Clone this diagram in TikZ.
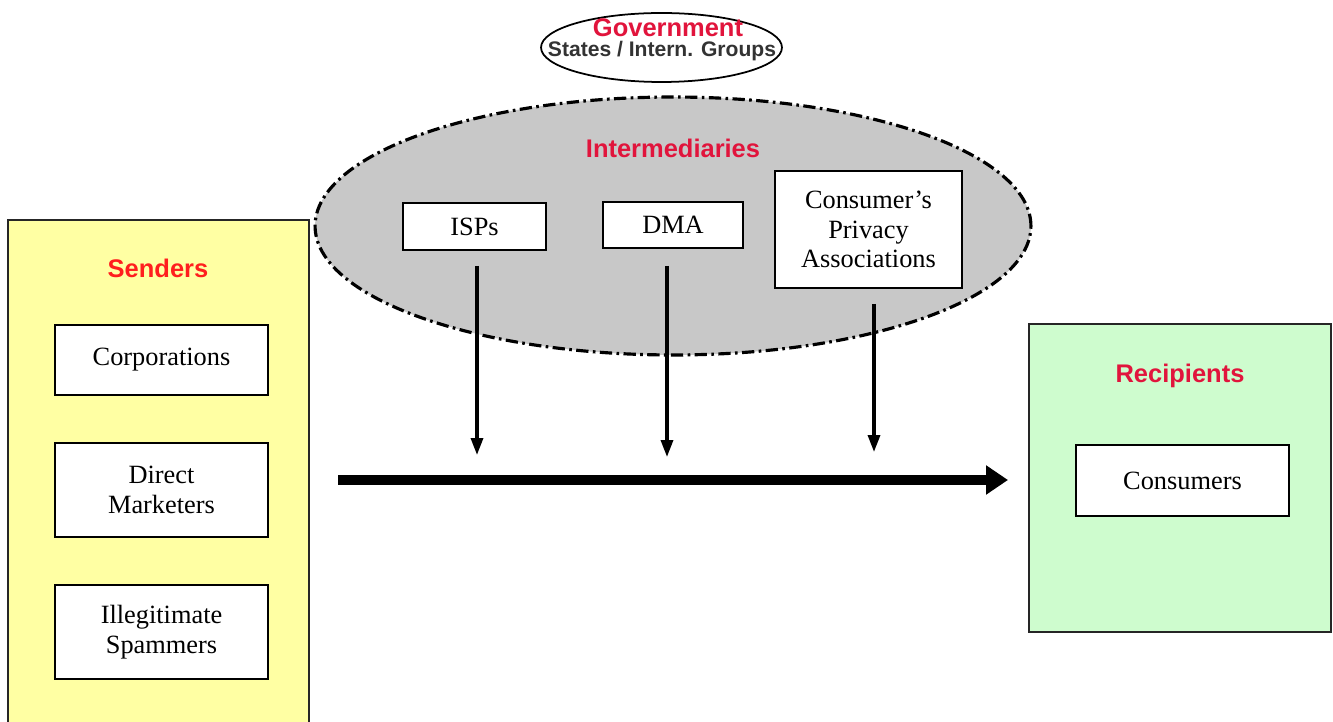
\documentclass[tikz,border=0pt]{standalone}
\usepackage{fontspec}
\setmainfont{Liberation Serif}
\newfontfamily\headfont{Liberation Sans}
\usetikzlibrary{shapes.geometric}
\usetikzlibrary{arrows.meta}
\definecolor{headred}{RGB}{225,20,60}
\definecolor{sendred}{RGB}{255,30,30}
\definecolor{sendyellow}{RGB}{255,255,163}
\definecolor{recgreen}{RGB}{206,252,206}
\definecolor{midgray}{RGB}{200,200,200}
\tikzset{
  itembox/.style={draw=black, line width=1.1pt, fill=white, align=center, inner sep=0pt,
    font=\fontsize{15}{17}\selectfont},
  grouptitle/.style={font=\headfont\bfseries\fontsize{14.5}{17}\selectfont, text=headred},
  groupbox/.style={draw=black!85, line width=1pt, inner sep=0pt},
  downarrow/.style={black, line width=1.9pt, ->, >={Triangle[length=0.34cm,width=0.24cm]}},
}

\begin{document}
\begin{tikzpicture}[x=0.02cm, y=-0.02cm]
\useasboundingbox (0,0) rectangle (1333,722);

% senders side
\node[groupbox, fill=sendyellow, minimum width=6.02cm, minimum height=10.4cm] (senders) at (158.5,480) {};
\node[grouptitle, text=sendred] (senderstitle) at (158,268) {Senders};
\node[itembox, minimum width=4.26cm, minimum height=1.4cm] (corp) at (161.5,360) {Corporations};
\node[itembox, minimum width=4.26cm, minimum height=1.88cm] (direct) at (161.5,490) {Direct\\Marketers};
\node[itembox, minimum width=4.26cm, minimum height=1.88cm] (spam) at (161.5,632) {Illegitimate\\Spammers};

% recipients side
\node[groupbox, fill=recgreen, minimum width=6.04cm, minimum height=6.16cm] (recipients) at (1180,478) {};
\node[grouptitle] (recipientstitle) at (1180,376) {Recipients};
\node[itembox, minimum width=4.26cm, minimum height=1.42cm] (consumers) at (1182.5,480.5) {Consumers};

% government
\node[ellipse, draw=black, line width=1pt, fill=white, minimum width=4.82cm, minimum height=1.38cm, inner sep=0pt] (gov) at (661.5,47.5) {};
\node[grouptitle, inner sep=0pt] (govname) at (668,28) {Government};
\node[font=\headfont\bfseries\fontsize{12}{14}\selectfont, text=black!80, inner sep=0pt] (govgroups) at (662,51) {States / Intern. Groups};

% intermediaries
\node[ellipse, draw=black, fill=midgray, line width=1.8pt, dash pattern=on 7pt off 2.5pt on 1.5pt off 2.5pt,
  minimum width=14.32cm, minimum height=5.16cm, inner sep=0pt] (inter) at (673,226) {};
\node[grouptitle] (intertitle) at (673,148) {Intermediaries};
\node[itembox, minimum width=2.86cm, minimum height=0.94cm] (isps) at (474.5,226.5) {ISPs};
\node[itembox, minimum width=2.8cm, minimum height=0.92cm] (dma) at (673,225) {DMA};
\node[itembox, minimum width=3.74cm, minimum height=2.34cm] (privacy) at (868.5,229.5) {Consumer's\\Privacy\\Associations};

% arrows
\coordinate (ispsend) at (477,455);
\coordinate (dmaend) at (667,457);
\coordinate (privacyend) at (874,452);
\draw[downarrow, shorten <=0.3cm] (isps.south -| ispsend) -- (ispsend);
\draw[downarrow, shorten <=0.34cm] (dma.south -| dmaend) -- (dmaend);
\draw[downarrow, shorten <=0.3cm] (privacy.south -| privacyend) -- (privacyend);

\coordinate (flowstart) at (338,480);
\coordinate (flowend) at (1008,480);
\draw[black, line width=5.5pt, ->, >={Triangle[length=0.44cm,width=0.56cm]}] (flowstart) -- (flowend);
\end{tikzpicture}
\end{document}
